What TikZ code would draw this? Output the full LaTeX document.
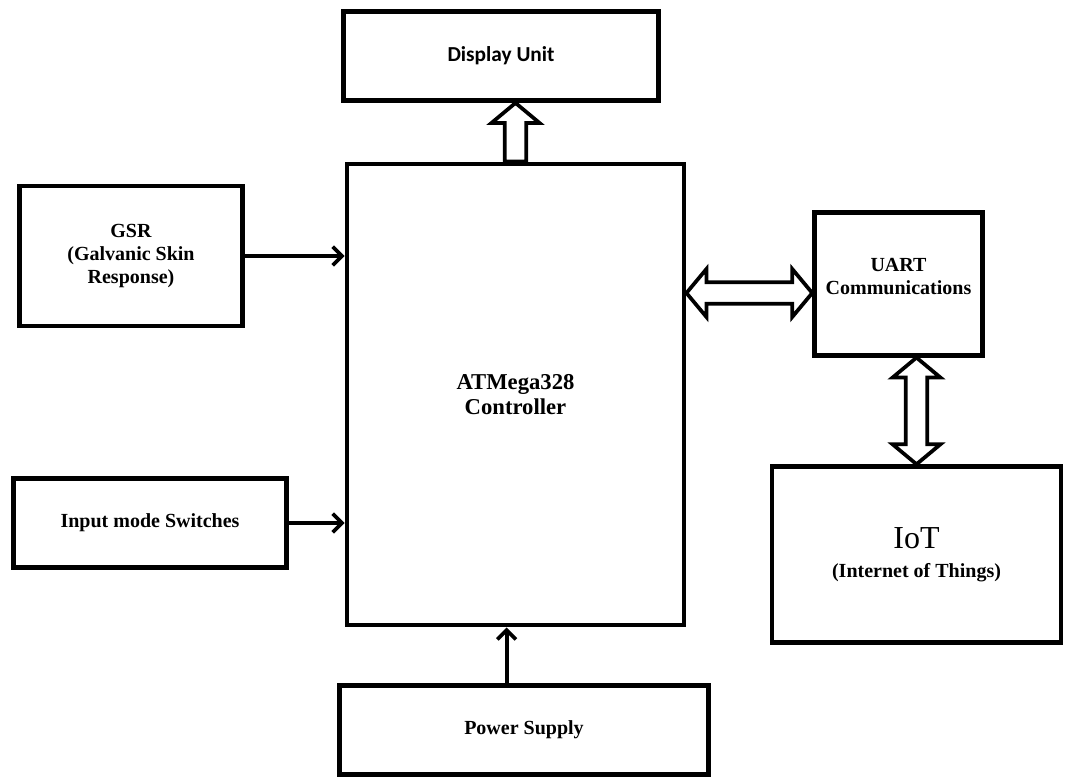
\documentclass[tikz,border=0pt]{standalone}
\usepackage{fontspec}
\setmainfont{Liberation Serif}
\newfontfamily\calfont{Carlito}
\usetikzlibrary{positioning,calc,arrows.meta}

\tikzset{
    block/.style={draw, line width=3.4pt, align=center, inner sep=2pt,
        font=\bfseries\fontsize{15}{17}\selectfont},
    thin arrow/.style={line width=2.8pt, -{Straight Barb[length=7pt,width=14pt]}},
    fat arrow/.style={draw, line width=2.8pt, fill=white, line join=miter},
}

% hollow arrow, tip at #2
\newcommand{\onewayarrow}[2]{%
    \draw[fat arrow] ($(#1)!8pt!90:(#2)$) -- ($(#2)!15pt!(#1)!8pt!-90:(#1)$)
        -- ($(#2)!15pt!(#1)!18pt!-90:(#1)$) -- (#2)
        -- ($(#2)!15pt!(#1)!18pt!90:(#1)$) -- ($(#2)!15pt!(#1)!8pt!90:(#1)$)
        -- ($(#1)!8pt!-90:(#2)$) -- cycle;}

% hollow arrow, tips at both ends
\newcommand{\twowayarrow}[2]{%
    \draw[fat arrow] (#1) -- ($(#1)!15pt!(#2)!18pt!90:(#2)$) -- ($(#1)!15pt!(#2)!8pt!90:(#2)$)
        -- ($(#2)!15pt!(#1)!8pt!-90:(#1)$) -- ($(#2)!15pt!(#1)!18pt!-90:(#1)$) -- (#2)
        -- ($(#2)!15pt!(#1)!18pt!90:(#1)$) -- ($(#2)!15pt!(#1)!8pt!90:(#1)$)
        -- ($(#1)!15pt!(#2)!8pt!-90:(#2)$) -- ($(#1)!15pt!(#2)!18pt!-90:(#2)$) -- cycle;}

\begin{document}
\begin{tikzpicture}[x=0.75pt, y=-0.75pt]
    \useasboundingbox (0,0) rectangle (1068,778);

    % blocks
    \node[block, minimum width=236pt, minimum height=67pt,
        font=\calfont\bfseries\fontsize{16}{19}\selectfont] (disp) at (501,56) {Display Unit};
    \node[block, minimum width=253pt, minimum height=346pt,
        font=\bfseries\fontsize{17}{19}\selectfont] (ctrl) at (515.5,394.5) {ATMega328\\Controller};
    \node[block, minimum width=167pt, minimum height=105pt] (gsr) at (131,256)
        {GSR\\(Galvanic Skin\\Response)};
    \node[block, minimum width=205pt, minimum height=67pt] (inp) at (150,523) {Input mode Switches};
    \node[block, minimum width=277pt, minimum height=67pt] (pwr) at (524,730) {Power Supply};
    \node[block, minimum width=126pt, minimum height=107pt] (uart) at (898.5,284)
        {UART\\Communications\\[-6pt]\mbox{}};
    \node[block, minimum width=217pt, minimum height=132pt] (iot) at (916.5,554.5)
        {{\mdseries\fontsize{24}{26}\selectfont IoT}\\[5pt](Internet of Things)};

    % plain arrows into the controller
    \draw[thin arrow] (gsr.east) -- (gsr.east -| ctrl.west);
    \draw[thin arrow] (inp.east) -- (inp.east -| ctrl.west);
    \coordinate (pin) at ([xshift=-13pt]pwr.north);
    \draw[thin arrow] (pin) -- (pin |- ctrl.south);

    % hollow arrows
    \coordinate (dtop) at (ctrl.north |- disp.south);
    \onewayarrow{ctrl.north}{dtop}
    \coordinate (uin) at ([yshift=-6.75pt]uart.west);
    \coordinate (cout) at (ctrl.east |- uin);
    \twowayarrow{cout}{uin}
    \coordinate (uout) at (iot.north |- uart.south);
    \twowayarrow{uout}{iot.north}
\end{tikzpicture}
\end{document}
